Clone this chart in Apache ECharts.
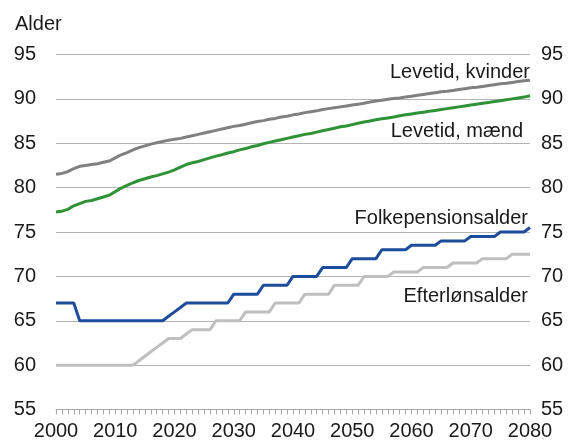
<!DOCTYPE html>
<html>
<head>
<meta charset="utf-8">
<script src="https://cdn.jsdelivr.net/npm/echarts@6/dist/echarts.min.js"></script>
<style>
  html, body { margin: 0; padding: 0; background: #fff; }
  #chart { width: 576px; height: 443px; }
</style>
</head>
<body>
<div id="chart"></div>
<script>
// Years 2000-2080
const years = [
  2000,2001,2002,2003,2004,2005,2006,2007,2008,2009,
  2010,2011,2012,2013,2014,2015,2016,2017,2018,2019,
  2020,2021,2022,2023,2024,2025,2026,2027,2028,2029,
  2030,2031,2032,2033,2034,2035,2036,2037,2038,2039,
  2040,2041,2042,2043,2044,2045,2046,2047,2048,2049,
  2050,2051,2052,2053,2054,2055,2056,2057,2058,2059,
  2060,2061,2062,2063,2064,2065,2066,2067,2068,2069,
  2070,2071,2072,2073,2074,2075,2076,2077,2078,2079,
  2080
];

// Life expectancy, women
const levetidKvinder = [
  81.5,81.6,81.8,82.15,82.4,82.5,82.6,82.7,82.85,83.0,
  83.35,83.7,83.95,84.25,84.5,84.7,84.9,85.05,85.2,85.35,
  85.45,85.55,85.7,85.85,86.0,86.15,86.3,86.45,86.6,86.75,
  86.9,87.0,87.15,87.3,87.45,87.55,87.7,87.8,87.95,88.05,
  88.2,88.3,88.45,88.55,88.65,88.8,88.9,89.0,89.1,89.2,
  89.3,89.4,89.5,89.65,89.75,89.85,89.95,90.05,90.1,90.2,
  90.3,90.4,90.5,90.6,90.7,90.8,90.85,90.95,91.05,91.15,
  91.25,91.3,91.4,91.5,91.6,91.7,91.75,91.85,91.95,92.05,
  92.1
];

// Life expectancy, men
const levetidMaend = [
  77.25,77.35,77.55,77.95,78.2,78.45,78.55,78.75,78.95,79.15,
  79.55,79.95,80.25,80.55,80.8,81.0,81.2,81.35,81.55,81.75,
  82.0,82.3,82.6,82.8,82.95,83.15,83.35,83.55,83.7,83.9,
  84.05,84.25,84.4,84.6,84.75,84.95,85.1,85.25,85.4,85.55,
  85.7,85.85,86.0,86.1,86.25,86.4,86.55,86.7,86.85,86.95,
  87.1,87.25,87.4,87.5,87.65,87.75,87.85,87.95,88.1,88.2,
  88.3,88.4,88.5,88.6,88.7,88.8,88.9,89.0,89.1,89.2,
  89.3,89.4,89.5,89.6,89.7,89.8,89.9,90.0,90.1,90.2,
  90.35
];

// State pension age
const folkepensionsalder = [
  67,67,67,67,65,65,65,65,65,65,
  65,65,65,65,65,65,65,65,65,65.5,
  66,66.5,67,67,67,67,67,67,67,67,
  68,68,68,68,68,69,69,69,69,69,
  70,70,70,70,70,71,71,71,71,71,
  72,72,72,72,72,73,73,73,73,73,
  73.5,73.5,73.5,73.5,73.5,74,74,74,74,74,
  74.5,74.5,74.5,74.5,74.5,75,75,75,75,75,
  75.5
];

// Early retirement age
const efterloensalder = [
  60,60,60,60,60,60,60,60,60,60,
  60,60,60,60,60.5,61,61.5,62,62.5,63,
  63,63,63.5,64,64,64,64,65,65,65,
  65,65,66,66,66,66,66,67,67,67,
  67,67,68,68,68,68,68,69,69,69,
  69,69,70,70,70,70,70,70.5,70.5,70.5,
  70.5,70.5,71,71,71,71,71,71.5,71.5,71.5,
  71.5,71.5,72,72,72,72,72,72.5,72.5,72.5,
  72.5
];

const seriesNames = ['Levetid, kvinder', 'Levetid, mænd', 'Folkepensionsalder', 'Efterlønsalder'];
const seriesValues = [levetidKvinder, levetidMaend, folkepensionsalder, efterloensalder];
const seriesColors = ['#808080', '#2f9237', '#1d4c9c', '#bfbfbf'];

const font = 'Liberation Sans, Arial, sans-serif';
const textColor = '#1a1a1a';

const chart = echarts.init(document.getElementById('chart'), null, { renderer: 'canvas' });

const yAxisBase = {
  type: 'value', min: 55, max: 95, interval: 5,
  axisLine: { show: false },
  axisTick: { show: false },
  axisLabel: { fontFamily: font, fontSize: 20, color: textColor }
};

chart.setOption({
  animation: false,
  backgroundColor: '#fff',
  grid: { left: 56, right: 46, top: 54.5, bottom: 33.5, containLabel: false },
  xAxis: {
    type: 'value', min: 2000, max: 2080, interval: 10,
    axisLine: { show: true, lineStyle: { color: '#a6a6a6', width: 1 } },
    axisTick: { show: true, length: 5, lineStyle: { color: '#a6a6a6' } },
    minorTick: { show: true, splitNumber: 10, length: 5, lineStyle: { color: '#a6a6a6' } },
    splitLine: { show: false },
    axisLabel: { fontFamily: font, fontSize: 20, color: textColor, margin: 12,
      formatter: v => String(v) }
  },
  yAxis: [
    Object.assign({}, yAxisBase, {
      position: 'left',
      axisLabel: Object.assign({}, yAxisBase.axisLabel, { margin: 20 }),
      splitLine: { show: true, lineStyle: { color: '#b4b4b4', width: 1 } }
    }),
    Object.assign({}, yAxisBase, {
      position: 'right',
      axisLabel: Object.assign({}, yAxisBase.axisLabel, { margin: 11 }),
      splitLine: { show: false }
    })
  ],
  series: seriesNames.map((name, i) => ({
    name: name,
    type: 'line',
    yAxisIndex: 0,
    showSymbol: false,
    symbol: 'none',
    lineStyle: { color: seriesColors[i], width: 3 },
    data: years.map((y, j) => [y, seriesValues[i][j]])
  })),
  graphic: [
    { type: 'text', left: 15, top: 14, style: { text: 'Alder', font: '20px ' + font, fill: textColor } },
    { type: 'text', right: 46, top: 62, style: { text: 'Levetid, kvinder', font: '20px ' + font, fill: textColor } },
    { type: 'text', right: 53, top: 121, style: { text: 'Levetid, mænd', font: '20px ' + font, fill: textColor } },
    { type: 'text', right: 48, top: 208, style: { text: 'Folkepensionsalder', font: '20px ' + font, fill: textColor } },
    { type: 'text', right: 48, top: 286, style: { text: 'Efterlønsalder', font: '20px ' + font, fill: textColor } }
  ]
});
</script>
</body>
</html>
